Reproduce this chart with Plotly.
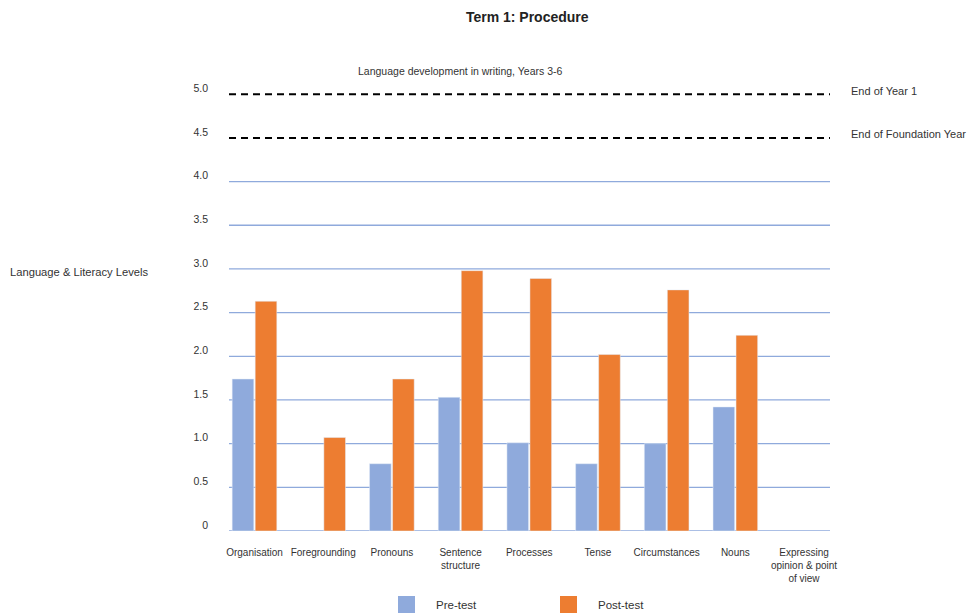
import plotly.graph_objects as go

categories = ["Organisation", "Foregrounding", "Pronouns", "Sentence<br>structure", "Processes",
              "Tense", "Circumstances", "Nouns", "Expressing<br>opinion & point<br>of view"]
pre_test = [1.74, None, 0.77, 1.53, 1.01, 0.77, 1.0, 1.42, None]
post_test = [2.63, 1.07, 1.74, 2.98, 2.89, 2.02, 2.76, 2.24, None]
series_names = ["Pre-test", "Post-test"]
tick_vals = [0, 0.5, 1.0, 1.5, 2.0, 2.5, 3.0, 3.5, 4.0, 4.5, 5.0]
tick_text = ["0", "0.5", "1.0", "1.5", "2.0", "2.5", "3.0", "3.5", "4.0", "4.5", "5.0"]
grid_levels = [0, 0.5, 1.0, 1.5, 2.0, 2.5, 3.0, 3.5, 4.0]
benchmarks = [5.0, 4.5]
benchmark_labels = ["End of Year 1", "End of Foundation Year"]

FONT = "Liberation Sans, Arial, sans-serif"
BLUE = "#8FAADC"
ORANGE = "#ED7D31"
COLORS = [BLUE, ORANGE]

W, H = 971, 616
ML, MR, MT, MB = 229, 141, 68, 85
PW, PH = W - ML - MR, H - MT - MB


def px_x(px):
    return (px - ML) / PW


def px_y(py):
    return (H - MB - py) / PH


fig = go.Figure()
fig.add_trace(go.Bar(name=series_names[0], x=categories, y=pre_test, marker_color=BLUE, showlegend=False))
fig.add_trace(go.Bar(name=series_names[1], x=categories, y=post_test, marker_color=ORANGE, showlegend=False))

shapes = []
for g in grid_levels:
    shapes.append(dict(type="line", xref="paper", yref="y", x0=0, x1=1, y0=g, y1=g,
                       line=dict(color=BLUE, width=1.3), layer="below"))
for b in benchmarks:
    shapes.append(dict(type="line", xref="paper", yref="y", x0=0, x1=1, y0=b, y1=b,
                       line=dict(color="black", width=2, dash="7px,5px"), layer="above"))

annotations = []
for b, lab in zip(benchmarks, benchmark_labels):
    annotations.append(dict(text=lab, xref="paper", yref="y", x=1.031, y=b + 0.04,
                            xanchor="left", yanchor="middle", showarrow=False,
                            font=dict(family=FONT, size=11, color="#333333")))
annotations.append(dict(text="Language development in writing, Years 3-6", xref="paper", yref="y",
                        x=0.385, y=5.27, xanchor="center", yanchor="middle", showarrow=False,
                        font=dict(family=FONT, size=10.5, color="#333333")))
annotations.append(dict(text="Language & Literacy Levels", xref="paper", yref="y",
                        x=-0.367, y=3.0 - 0.03, xanchor="left", yanchor="middle", showarrow=False,
                        font=dict(family=FONT, size=11.2, color="#333333")))

# legend drawn as swatches + labels at the bottom
legend_left = [398, 560]
for i, name in enumerate(series_names):
    x0 = legend_left[i]
    shapes.append(dict(type="rect", xref="paper", yref="paper",
                       x0=px_x(x0), x1=px_x(x0 + 17), y0=px_y(613), y1=px_y(596),
                       fillcolor=COLORS[i], line=dict(width=0)))
    annotations.append(dict(text=name, xref="paper", yref="paper", x=px_x(x0 + 36), y=px_y(605),
                            xanchor="left", yanchor="middle", showarrow=False,
                            font=dict(family=FONT, size=11.5, color="#333333")))

fig.update_layout(
    width=W, height=H,
    margin=dict(l=ML, r=MR, t=MT, b=MB),
    paper_bgcolor="white", plot_bgcolor="white",
    showlegend=False,
    title=dict(text="<b>Term 1: Procedure</b>", x=0.543, xanchor="center", y=0.972, yanchor="middle",
               font=dict(family="Liberation Sans Narrow, " + FONT, size=14, color="#222222")),
    barmode="group", bargap=0.33, bargroupgap=0.06,
    font=dict(family=FONT, size=10, color="#333333"),
    xaxis=dict(range=[-0.371, 8.378], showgrid=False, showline=False, ticks="",
               ticklabelstandoff=14,
               tickfont=dict(family=FONT, size=10, color="#333333")),
    yaxis=dict(range=[0, 5.3], tickvals=tick_vals, ticktext=tick_text, showgrid=False,
               zeroline=False, showline=False, ticks="", ticklabelshift=-6,
               ticklabelstandoff=20,
               tickfont=dict(family=FONT, size=10.5, color="#333333")),
    shapes=shapes, annotations=annotations,
)

fig.write_html("out.html")
